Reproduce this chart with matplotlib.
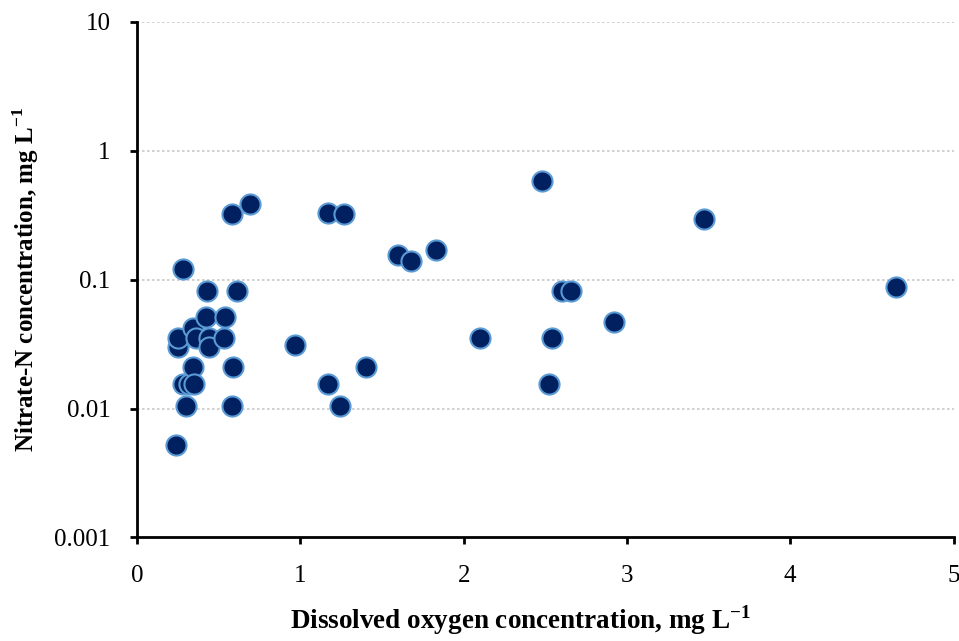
import matplotlib
matplotlib.use("Agg")
import matplotlib.pyplot as plt

plt.rcParams['font.family'] = ['Liberation Serif', 'DejaVu Serif']
plt.rcParams['mathtext.fontset'] = 'custom'
plt.rcParams['mathtext.rm'] = 'Liberation Serif'
plt.rcParams['mathtext.bf'] = 'Liberation Serif:bold'

# Dissolved oxygen (mg/L) vs nitrate-N (mg/L)
dissolved_oxygen = [
    0.24, 0.25, 0.25, 0.28, 0.28, 0.30, 0.32, 0.34, 0.34, 0.35, 0.36,
    0.42, 0.43, 0.44, 0.44, 0.53, 0.54, 0.58, 0.58, 0.59, 0.61, 0.69,
    0.97, 1.17, 1.17, 1.24, 1.27, 1.40, 1.60, 1.68, 1.83,
    2.10, 2.48, 2.52, 2.54, 2.60, 2.66, 2.92, 3.47, 4.65,
]
nitrate_n = [
    0.0052, 0.030, 0.035, 0.12, 0.0154, 0.0104, 0.0154, 0.042, 0.021, 0.0154, 0.035,
    0.051, 0.082, 0.035, 0.030, 0.035, 0.051, 0.325, 0.0104, 0.021, 0.082, 0.388,
    0.031, 0.329, 0.0154, 0.0104, 0.325, 0.021, 0.155, 0.139, 0.171,
    0.035, 0.585, 0.0154, 0.035, 0.082, 0.082, 0.047, 0.297, 0.087,
]

x_ticks = [0, 1, 2, 3, 4, 5]
y_ticks = [0.001, 0.01, 0.1, 1, 10]
y_tick_labels = ['0.001', '0.01', '0.1', '1', '10']

fig = plt.figure(figsize=(9.59, 6.41), dpi=100)
ax = fig.add_axes([0.1429, 0.1617, 0.8514, 0.8040])

ax.set_yscale('log')
ax.set_xlim(0, 5)
ax.set_ylim(0.001, 10)

ax.scatter(dissolved_oxygen, nitrate_n, s=210, facecolor='#002060',
           edgecolor='#5b9bd5', linewidth=1.5, zorder=3)

ax.set_xticks(x_ticks)
ax.set_xticklabels([str(t) for t in x_ticks])
ax.set_yticks(y_ticks)
ax.set_yticklabels(y_tick_labels)
ax.yaxis.set_minor_locator(matplotlib.ticker.NullLocator())
ax.tick_params(axis='both', direction='out', length=5, width=2, labelsize=18)
ax.tick_params(axis='x', pad=15)
ax.tick_params(axis='y', pad=14)

for yv in y_ticks[1:]:
    ax.axhline(yv, color='#c8c8c8', linestyle=(0, (1.5, 1.5)), linewidth=1.2, zorder=1)

ax.spines['top'].set_visible(False)
ax.spines['right'].set_visible(False)
ax.spines['left'].set_linewidth(2)
ax.spines['bottom'].set_linewidth(2)

ax.set_xlabel(r'Dissolved oxygen concentration, mg L$^{\mathbf{-1}}$',
              fontsize=19.5, fontweight='bold')
ax.xaxis.set_label_coords(0.469, -0.128)
ax.set_ylabel(r'Nitrate-N concentration, mg L$^{\mathbf{-1}}$',
              fontsize=18, fontweight='bold', labelpad=10)

fig.savefig('out.png', dpi=100)
